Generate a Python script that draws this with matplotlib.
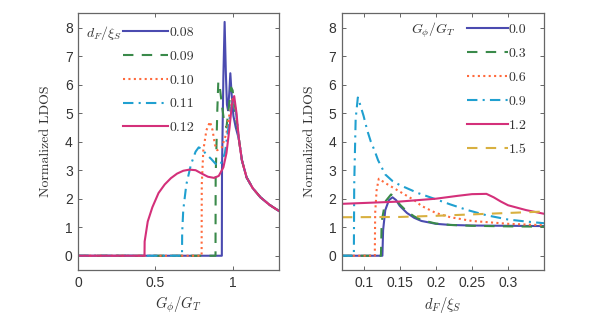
import numpy as np
import matplotlib
matplotlib.use('Agg')
import matplotlib.pyplot as plt

# panneau de gauche : LDOS en fonction de G_phi/G_T pour plusieurs d_F/xi_S
g_labels = ['0.08', '0.09', '0.10', '0.11', '0.12']

# queue commune a toutes les courbes (x > 1.03)
tail_g = [1.04, 1.06, 1.09, 1.13, 1.18, 1.24, 1.30]
tail_ldos = [4.1, 3.35, 2.75, 2.37, 2.05, 1.78, 1.57]

g_008 = [0, 0.93, 0.931, 0.94, 0.948, 0.956, 0.963, 0.97, 0.978, 0.985, 0.993, 1.005, 1.02]
ldos_008 = [0, 0, 3.0, 6.3, 8.2, 6.4, 5.3, 5.1, 5.7, 6.4, 5.7, 4.9, 4.5]

g_009 = [0, 0.889, 0.89, 0.895, 0.90, 0.907, 0.915, 0.93, 0.945, 0.96, 0.975, 0.99, 1.0, 1.015]
ldos_009 = [0, 0, 2.8, 3.8, 5.0, 6.1, 6.0, 5.3, 4.7, 4.5, 5.2, 5.9, 5.8, 5.1]

g_010 = [0, 0.799, 0.80, 0.81, 0.83, 0.853, 0.87, 0.885, 0.90, 0.93, 0.96, 0.98, 1.0, 1.015]
ldos_010 = [0, 0, 2.5, 3.7, 4.4, 4.7, 4.4, 3.9, 3.7, 3.8, 4.3, 5.0, 5.5, 5.3]

g_011 = [0, 0.672, 0.673, 0.68, 0.70, 0.73, 0.76, 0.78, 0.80, 0.83, 0.86, 0.89, 0.92, 0.95, 0.97, 0.99, 1.005, 1.02]
ldos_011 = [0, 0, 0.8, 1.6, 2.5, 3.2, 3.65, 3.8, 3.75, 3.55, 3.4, 3.22, 3.18, 3.6, 4.4, 5.2, 5.5, 5.1]

g_012 = [0, 0.429, 0.43, 0.45, 0.48, 0.52, 0.56, 0.60, 0.64, 0.68, 0.72, 0.76, 0.80, 0.84, 0.88,
         0.91, 0.94, 0.96, 0.98, 0.995, 1.01, 1.025]
ldos_012 = [0, 0, 0.5, 1.2, 1.7, 2.2, 2.5, 2.72, 2.88, 2.98, 3.02, 3.0, 2.88, 2.77, 2.73,
            2.8, 3.1, 3.6, 4.5, 5.3, 5.6, 5.0]

# panneau de droite : LDOS en fonction de d_F/xi_S pour plusieurs G_phi/G_T
d_labels = ['0.0', '0.3', '0.6', '0.9', '1.2', '1.5']

d_00 = [0.07, 0.126, 0.127, 0.13, 0.135, 0.14, 0.145, 0.15, 0.16, 0.17, 0.18, 0.2, 0.22, 0.25, 0.3, 0.35]
ldos_00 = [0, 0, 0.9, 1.6, 1.95, 2.05, 1.95, 1.75, 1.5, 1.33, 1.22, 1.12, 1.08, 1.06, 1.05, 1.04]

d_03 = [0.07, 0.124, 0.125, 0.13, 0.138, 0.145, 0.15, 0.16, 0.17, 0.18, 0.2, 0.22, 0.25, 0.3, 0.35]
ldos_03 = [0, 0, 1.2, 1.9, 2.15, 2.0, 1.8, 1.55, 1.38, 1.25, 1.13, 1.08, 1.05, 1.03, 1.02]

d_06 = [0.07, 0.1155, 0.116, 0.118, 0.121, 0.13, 0.14, 0.15, 0.16, 0.17, 0.18, 0.2, 0.22, 0.25, 0.3, 0.35]
ldos_06 = [0, 0, 1.5, 2.3, 2.7, 2.55, 2.4, 2.25, 2.1, 1.95, 1.75, 1.5, 1.35, 1.22, 1.12, 1.07]

d_09 = [0.07, 0.0865, 0.087, 0.089, 0.092, 0.094, 0.1, 0.105, 0.11, 0.115, 0.12, 0.13, 0.14, 0.15,
        0.175, 0.2, 0.22, 0.244, 0.27, 0.3, 0.325, 0.35]
ldos_09 = [0, 0, 2.5, 4.8, 5.55, 5.4, 4.9, 4.4, 4.0, 3.7, 3.35, 2.85, 2.62, 2.48,
           2.2, 1.98, 1.8, 1.6, 1.42, 1.27, 1.2, 1.14]

d_12 = [0.07, 0.1, 0.15, 0.2, 0.23, 0.25, 0.27, 0.28, 0.29, 0.3, 0.325, 0.35]
ldos_12 = [1.82, 1.85, 1.9, 2.0, 2.1, 2.16, 2.17, 2.05, 1.9, 1.77, 1.6, 1.47]

d_15 = [0.07, 0.15, 0.2, 0.25, 0.3, 0.35]
ldos_15 = [1.35, 1.36, 1.4, 1.45, 1.5, 1.55]

y_ticks = [0, 1, 2, 3, 4, 5, 6, 7, 8]
left_xticks = [0, 0.5, 1]
left_xticklabels = ['0', '0.5', '1']
right_xticks = [0.1, 0.15, 0.2, 0.25, 0.3]
right_xticklabels = ['0.1', '0.15', '0.2', '0.25', '0.3']

# styles facon matlab
colors = ['#4b4bb0', '#3a8a4a', '#ff6a3d', '#20a0d0', '#d4307a', '#d8b040']
styles = ['-', (0, (5, 4)), (0, (1, 1.6)), (0, (5, 2.5, 1, 2.5)), '-', (0, (5, 4))]


def style_axes(ax):
    for s in ax.spines.values():
        s.set_color('#666666')
        s.set_linewidth(0.9)
    ax.tick_params(direction='in', top=True, right=True, length=3, width=0.7,
                   color='#666666', labelsize=10, labelcolor='#333333',
                   labelfontfamily='Liberation Sans', pad=4)
    ax.set_ylim(-0.5, 8.5)
    ax.set_yticks(y_ticks)
    ax.set_ylabel('Normalized LDOS', fontsize=10, color='#333333', labelpad=9)


plt.rcParams['font.family'] = 'cmr10'
plt.rcParams['mathtext.fontset'] = 'cm'
plt.rcParams['axes.unicode_minus'] = False

fig = plt.figure(figsize=(6.02, 3.22), dpi=100)
ax1 = fig.add_axes([0.130, 0.1615, 0.3334, 0.797])
ax2 = fig.add_axes([0.568, 0.1615, 0.336, 0.797])

left_x = [g_008, g_009, g_010, g_011, g_012]
left_y = [ldos_008, ldos_009, ldos_010, ldos_011, ldos_012]
for i in range(5):
    ax1.plot(left_x[i] + tail_g, left_y[i] + tail_ldos, color=colors[i],
             linestyle=styles[i], lw=1.5, label=g_labels[i])

right_x = [d_00, d_03, d_06, d_09, d_12, d_15]
right_y = [ldos_00, ldos_03, ldos_06, ldos_09, ldos_12, ldos_15]
for i in range(6):
    ax2.plot(right_x[i], right_y[i], color=colors[i], linestyle=styles[i],
             lw=1.5, label=d_labels[i])

style_axes(ax1)
ax1.set_xlim(0, 1.3)
ax1.set_xticks(left_xticks)
ax1.set_xticklabels(left_xticklabels)
ax1.set_xlabel(r'$G_\phi/G_T$', fontsize=10.5, color='#333333', labelpad=4)

style_axes(ax2)
ax2.set_xlim(0.07, 0.35)
ax2.set_xticks(right_xticks)
ax2.set_xticklabels(right_xticklabels)
ax2.set_xlabel(r'$d_F/\xi_S$', fontsize=10.5, color='#333333', labelpad=4)

# legendes sans cadre, titre a gauche de la premiere ligne
leg1 = ax1.legend(loc='upper left', bbox_to_anchor=(0.224, 0.95), frameon=False,
                  handlelength=3.2, handletextpad=0.15, labelspacing=0.8,
                  borderpad=0, borderaxespad=0, fontsize=10)
for t in leg1.get_texts():
    t.set_color('#333333')
ax1.text(0.216, 0.925, r'$d_F/\xi_S$', transform=ax1.transAxes, ha='right',
         va='center', fontsize=10, color='#333333')

leg2 = ax2.legend(loc='upper left', bbox_to_anchor=(0.616, 0.962), frameon=False,
                  handlelength=2.95, handletextpad=0.1, labelspacing=0.81,
                  borderpad=0, borderaxespad=0, fontsize=10)
for t in leg2.get_texts():
    t.set_color('#333333')
ax2.text(0.559, 0.935, r'$G_\phi/G_T$', transform=ax2.transAxes, ha='right',
         va='center', fontsize=10, color='#333333')

fig.savefig('out.png', dpi=100)
